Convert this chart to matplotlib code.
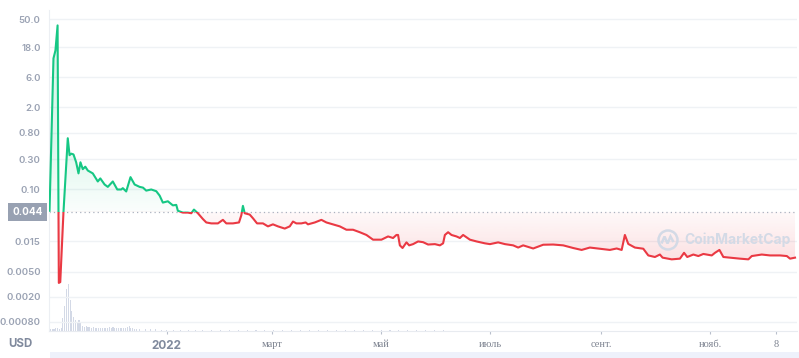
import numpy as np
import matplotlib
matplotlib.use("Agg")
import matplotlib.pyplot as plt
from matplotlib.path import Path
from matplotlib.patches import Rectangle, Circle, PathPatch
from matplotlib.transforms import blended_transform_factory, IdentityTransform
from matplotlib.ticker import NullLocator

# ---------------- data (days relative to 2022-01-01) ----------------
days = [-65.5, -63.3, -62.2, -61.0, -60.3, -59.5, -57.7, -55.3, -54.3, -53.4,
        -52.1, -50.6, -49.3, -48.2, -46.9, -45.5, -44.1, -41.3, -38.5, -37.1,
        -34.7, -32.9, -30.1, -27.6, -25.4, -24.5, -22.6, -20.2, -17.9, -15.1,
        -13.2, -11.4, -8.6, -5.8, -3.9, -2.1, 0.7, 3.5, 5.4, 6.3,
        9.1, 11.9, 13.8, 15.3, 17.5, 20.3, 22.2, 25.0, 25.9, 28.7,
        31.5, 33.4, 37.1, 40.5, 41.8, 42.7, 43.7, 46.5, 48.3, 50.6,
        53.9, 56.7, 59.5, 62.3, 66.1, 68.9, 70.7, 72.6, 75.4, 77.8,
        79.1, 82.9, 86.6, 89.4, 93.1, 96.9, 100.6, 104.3, 108.1, 111.8,
        115.5, 120.2, 123.9, 126.7, 128.6, 129.5, 130.5, 132.0, 134.2, 135.7,
        137.9, 140.7, 143.5, 146.3, 150.1, 152.9, 154.7, 155.7, 157.5, 159.4,
        162.2, 164.1, 165.9, 169.7, 173.4, 178.1, 180.9, 185.5, 189.3, 193.9,
        196.7, 199.5, 205.1, 210.7, 216.3, 221.9, 227.5, 232.2, 236.8, 242.4,
        248.0, 251.8, 254.6, 256.4, 258.3, 262.0, 266.7, 269.5, 273.2, 276.0,
        277.5, 282.6, 287.2, 289.5, 291.3, 294.7, 297.5, 300.3, 305.0, 306.8,
        309.3, 311.5, 315.2, 320.8, 325.5, 327.4, 333.0, 337.6, 343.2, 347.0,
        348.8, 351.6]
prices = [0.046, 12.0, 16.0, 40.0, 0.0033, 0.0034, 0.044, 0.65, 0.35, 0.37,
          0.36, 0.27, 0.18, 0.27, 0.21, 0.23, 0.20, 0.18, 0.134, 0.15,
          0.12, 0.11, 0.134, 0.10, 0.10, 0.105, 0.093, 0.157, 0.12, 0.11,
          0.107, 0.096, 0.10, 0.094, 0.08, 0.062, 0.065, 0.056, 0.057, 0.046,
          0.043, 0.043, 0.042, 0.048, 0.042, 0.034, 0.030, 0.029, 0.029, 0.029,
          0.033, 0.029, 0.029, 0.030, 0.039, 0.055, 0.042, 0.040, 0.035, 0.029,
          0.029, 0.026, 0.028, 0.026, 0.024, 0.026, 0.031, 0.029, 0.029, 0.030,
          0.028, 0.030, 0.033, 0.030, 0.028, 0.026, 0.023, 0.023, 0.021, 0.019,
          0.016, 0.016, 0.018, 0.017, 0.019, 0.019, 0.013, 0.0118, 0.0145, 0.013,
          0.0136, 0.015, 0.0146, 0.0134, 0.0136, 0.013, 0.014, 0.019, 0.021, 0.019,
          0.018, 0.017, 0.019, 0.016, 0.015, 0.014, 0.0136, 0.0145, 0.0136, 0.013,
          0.012, 0.013, 0.0116, 0.0133, 0.0134, 0.013, 0.0118, 0.011, 0.012, 0.0115,
          0.011, 0.0116, 0.011, 0.019, 0.0137, 0.012, 0.0115, 0.009, 0.0085, 0.0093,
          0.0083, 0.0078, 0.008, 0.0099, 0.0085, 0.0093, 0.0088, 0.0095, 0.009, 0.0099,
          0.011, 0.0085, 0.0083, 0.008, 0.0078, 0.0088, 0.0093, 0.009, 0.009, 0.0088,
          0.008, 0.0083]

vol_days = [-65, -64, -63, -62, -61, -60, -59, -58, -57, -56, -55, -54, -53, -52,
            -51, -50, -49, -48, -47, -46, -45, -44, -43, -42, -41, -40, -39, -38,
            -37, -36, -35, -34, -33, -32, -31, -30, -29, -28, -27, -26, -25, -24,
            -23, -22, -21, -20, -19, -18, -17, -15, -12, -9, -6, -3, 0, 4, 8,
            12, 16, 20, 25, 30, 35, 40, 45, 50, 55, 60, 65, 70, 75, 80, 85, 90, 95,
            100, 105, 110, 115, 120, 125, 130, 135, 140, 145, 150, 155]
vol_vals = [0.2, 0.2, 0.2, 0.25, 0.3, 0.2, 0.25, 1.3, 2.5, 4.2, 4.7, 3.1, 2.0, 1.4,
            1.1, 0.8, 1.1, 0.8, 0.5, 0.4, 0.5, 0.4, 0.4, 0.3, 0.4, 0.3, 0.3, 0.3,
            0.25, 0.3, 0.3, 0.25, 0.3, 0.35, 0.3, 0.4, 0.3, 0.25, 0.3, 0.25, 0.3, 0.25,
            0.3, 0.35, 0.5, 0.3, 0.25, 0.2, 0.2, 0.2, 0.15, 0.15, 0.15, 0.12, 0.12, 0.1, 0.1,
            0.1, 0.1, 0.1, 0.1, 0.1, 0.1, 0.1, 0.1, 0.1, 0.1, 0.1, 0.1, 0.1, 0.1, 0.1, 0.1, 0.1, 0.1,
            0.1, 0.1, 0.1, 0.1, 0.1, 0.1, 0.1, 0.1, 0.1, 0.1, 0.1, 0.1]

ytick_vals = [50, 18, 6, 2, 0.8, 0.3, 0.1, 0.015, 0.005, 0.002, 0.0008]
ytick_labels = ["50.0", "18.0", "6.0", "2.0", "0.80", "0.30", "0.10",
                "0.015", "0.0050", "0.0020", "0.00080"]
xtick_days = [0, 59, 120, 181, 243, 304, 341]
xtick_labels = ["2022", "март", "май", "июль", "сент.", "нояб.", "8"]
baseline = 0.044
baseline_label = "0.044"

# ---------------- style ----------------
GREEN = "#16c784"
RED = "#ea3943"
GRID = "#eff2f5"
LABEL = "#9aa2b3"
SANS = ["Inter", "DejaVu Sans"]

W, H = 799, 358
fig = plt.figure(figsize=(W / 100, H / 100), dpi=100)
L, R, T, B = 49, 797, 10, 331
rect = [L / W, 1 - B / H, (R - L) / W, (B - T) / H]

YLO, YHI = 0.00057, 70.2
XLO, XHI = -65.8, 352.7

# volume axes (behind)
axv = fig.add_axes(rect)
axv.bar(vol_days, vol_vals, width=0.6, color="#d3d9e6", linewidth=0)
axv.set_xlim(XLO, XHI)
axv.set_ylim(0, 32)
axv.axis("off")

ax = fig.add_axes(rect)
ax.patch.set_visible(False)
ax.set_yscale("log")
ax.set_xlim(XLO, XHI)
ax.set_ylim(YLO, YHI)

ax.set_yticks(ytick_vals, ytick_labels)
ax.yaxis.set_minor_locator(NullLocator())
ax.tick_params(axis="y", length=0, pad=6, labelsize=6.9, labelcolor=LABEL)
for lbl in ax.get_yticklabels():
    lbl.set_fontfamily(SANS)
    lbl.set_fontweight("semibold")
ax.grid(axis="y", color=GRID, lw=1)
ax.set_axisbelow(True)

ax.set_xticks(xtick_days, xtick_labels)
ax.xaxis.set_minor_locator(NullLocator())
ax.tick_params(axis="x", length=2.5, width=0.8, color="#b8bfcc", pad=4)
for i, lbl in enumerate(ax.get_xticklabels()):
    if i == 0:
        lbl.set_fontfamily(SANS)
        lbl.set_fontweight("bold")
        lbl.set_fontsize(8.5)
        lbl.set_color("#808a9d")
    else:
        lbl.set_fontfamily(["Liberation Serif", "DejaVu Serif"])
        lbl.set_fontsize(7.5)
        lbl.set_color("#7d8390")

for s in ["top", "right"]:
    ax.spines[s].set_visible(False)
ax.spines["left"].set_color("#eceff3")
ax.spines["bottom"].set_color("#e8ebf0")

# baseline fraction in axes coordinates
yb = (np.log10(baseline) - np.log10(YLO)) / (np.log10(YHI) - np.log10(YLO))

# fills with gradient
poly = ax.fill_between(days, prices, baseline, facecolor="none", lw=0)
clip = Path.make_compound_path(*poly.get_paths())

n = 256
t = np.linspace(0, 1, n)
g = np.zeros((n, 1, 4))
g[..., :3] = matplotlib.colors.to_rgb(GREEN)
g[:, 0, 3] = 0.02 + 0.13 * np.clip(t / 0.35, 0, 1)
im_g = ax.imshow(g, extent=[0, 1, yb, 1], transform=ax.transAxes, origin="lower",
                 aspect="auto", interpolation="bilinear", zorder=1)
im_g.set_clip_path(clip, ax.transData)

r = np.zeros((n, 1, 4))
r[..., :3] = matplotlib.colors.to_rgb(RED)
r[:, 0, 3] = (0.03 + 0.12 * np.clip(t / 0.4, 0, 1))
im_r = ax.imshow(r, extent=[0, 1, yb, 0], transform=ax.transAxes, origin="lower",
                 aspect="auto", interpolation="bilinear", zorder=1)
im_r.set_clip_path(clip, ax.transData)
ax.set_xlim(XLO, XHI)
ax.set_ylim(YLO, YHI)

# price line, green above baseline, red below
lg, = ax.plot(days, prices, color=GREEN, lw=1.5, zorder=3, solid_joinstyle="round")
lg.set_clip_path(Rectangle((0, yb), 1, 1 - yb, transform=ax.transAxes))
lr, = ax.plot(days, prices, color=RED, lw=1.5, zorder=3, solid_joinstyle="round")
lr.set_clip_path(Rectangle((0, 0), 1, yb, transform=ax.transAxes))

ax.axhline(baseline, color="#aab1bf", lw=0.9, ls=(0, (1, 2.5)), zorder=2)

# baseline value box
tr = blended_transform_factory(fig.transFigure, ax.transData)
ax.text(27.5 / W, baseline, baseline_label, transform=tr, ha="center", va="center",
        color="white", fontsize=7.2, fontweight="bold", family=SANS,
        bbox=dict(boxstyle="square,pad=0.4", fc="#98a1b2", ec="none"), clip_on=False)

# currency label
fig.text(8 / W, 1 - 344 / H, "USD", ha="left", va="center", fontsize=8.3,
         fontweight="bold", color="#808a9d", family=SANS)

# navigator band
fig.add_artist(Rectangle((50 / W, 0), (W - 50) / W, 6.5 / H, transform=fig.transFigure,
                         facecolor="#eef1fb", edgecolor="none"))

# watermark
wm = "#d3dae6"
fig.add_artist(Circle((668, H - 240), 9.5, transform=IdentityTransform(),
                      facecolor="none", edgecolor=wm, lw=1.8))
verts = [(661.5, H - 243.5), (664.5, H - 236.5), (667.5, H - 243.5),
         (670.5, H - 236.5), (673.5, H - 242)]
fig.add_artist(PathPatch(Path(verts), transform=IdentityTransform(),
                         facecolor="none", edgecolor=wm, lw=1.8))
fig.text(684 / W, 1 - 240 / H, "CoinMarketCap", ha="left", va="center",
         fontsize=10, fontweight="bold", color=wm, family=SANS)

fig.savefig("out.png", dpi=100)
